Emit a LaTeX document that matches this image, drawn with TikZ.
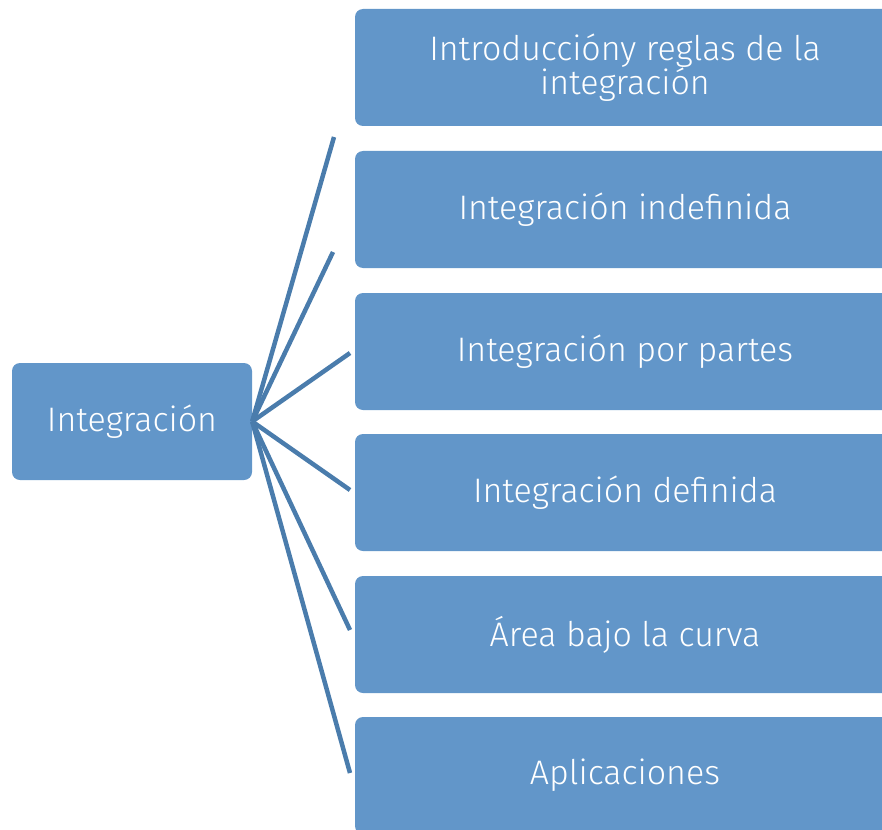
\documentclass[tikz,border=0pt]{standalone}
\usepackage{fontspec}
\setmainfont{Fira Sans}[UprightFont=* Light]
\usepackage{tikz}
\definecolor{boxblue}{RGB}{98, 150, 201}
\definecolor{lineblue}{RGB}{74, 124, 172}

\tikzset{
  topic/.style={fill=boxblue, rounded corners=8pt, text=white, align=center,
    font=\fontsize{34}{32}\selectfont, inner sep=0pt},
  branch/.style={draw=lineblue, line width=4.5pt}
}

\begin{document}
\begin{tikzpicture}[x=1pt, y=-1pt]
    \useasboundingbox (0,0) rectangle (882,829);
    \clip (0,0) rectangle (882,829);

    % main topic
    \node[topic, minimum width=240pt, minimum height=117pt] (integ) at (132,421.5) {Integración};

    % subtopics
    \node[topic, minimum width=540pt, minimum height=117pt] (intro)  at (625,67.5)  {Introduccióny reglas de la\\integración};
    \node[topic, minimum width=540pt, minimum height=117pt] (indef)  at (625,209.5) {Integración indefinida};
    \node[topic, minimum width=540pt, minimum height=117pt] (partes) at (625,351.5) {Integración por partes};
    \node[topic, minimum width=540pt, minimum height=117pt] (defin)  at (625,492.5) {Integración definida};
    \node[topic, minimum width=540pt, minimum height=117pt] (area)   at (625,634.5) {Área bajo la curva};
    \node[topic, minimum width=540pt, minimum height=117pt] (aplic)  at (625,775.5) {Aplicaciones};

    % free ends of the branches
    \coordinate (endintro)  at (334,137);
    \coordinate (endindef)  at (333,252);
    \coordinate (endpartes) at (350,353);
    \coordinate (enddefin)  at (350,490);
    \coordinate (endarea)   at (350,630);
    \coordinate (endaplic)  at (350,773);

    \foreach \e in {endintro, endindef, endpartes, enddefin, endarea, endaplic}
        \draw[branch] (integ.east) -- (\e);
\end{tikzpicture}
\end{document}
